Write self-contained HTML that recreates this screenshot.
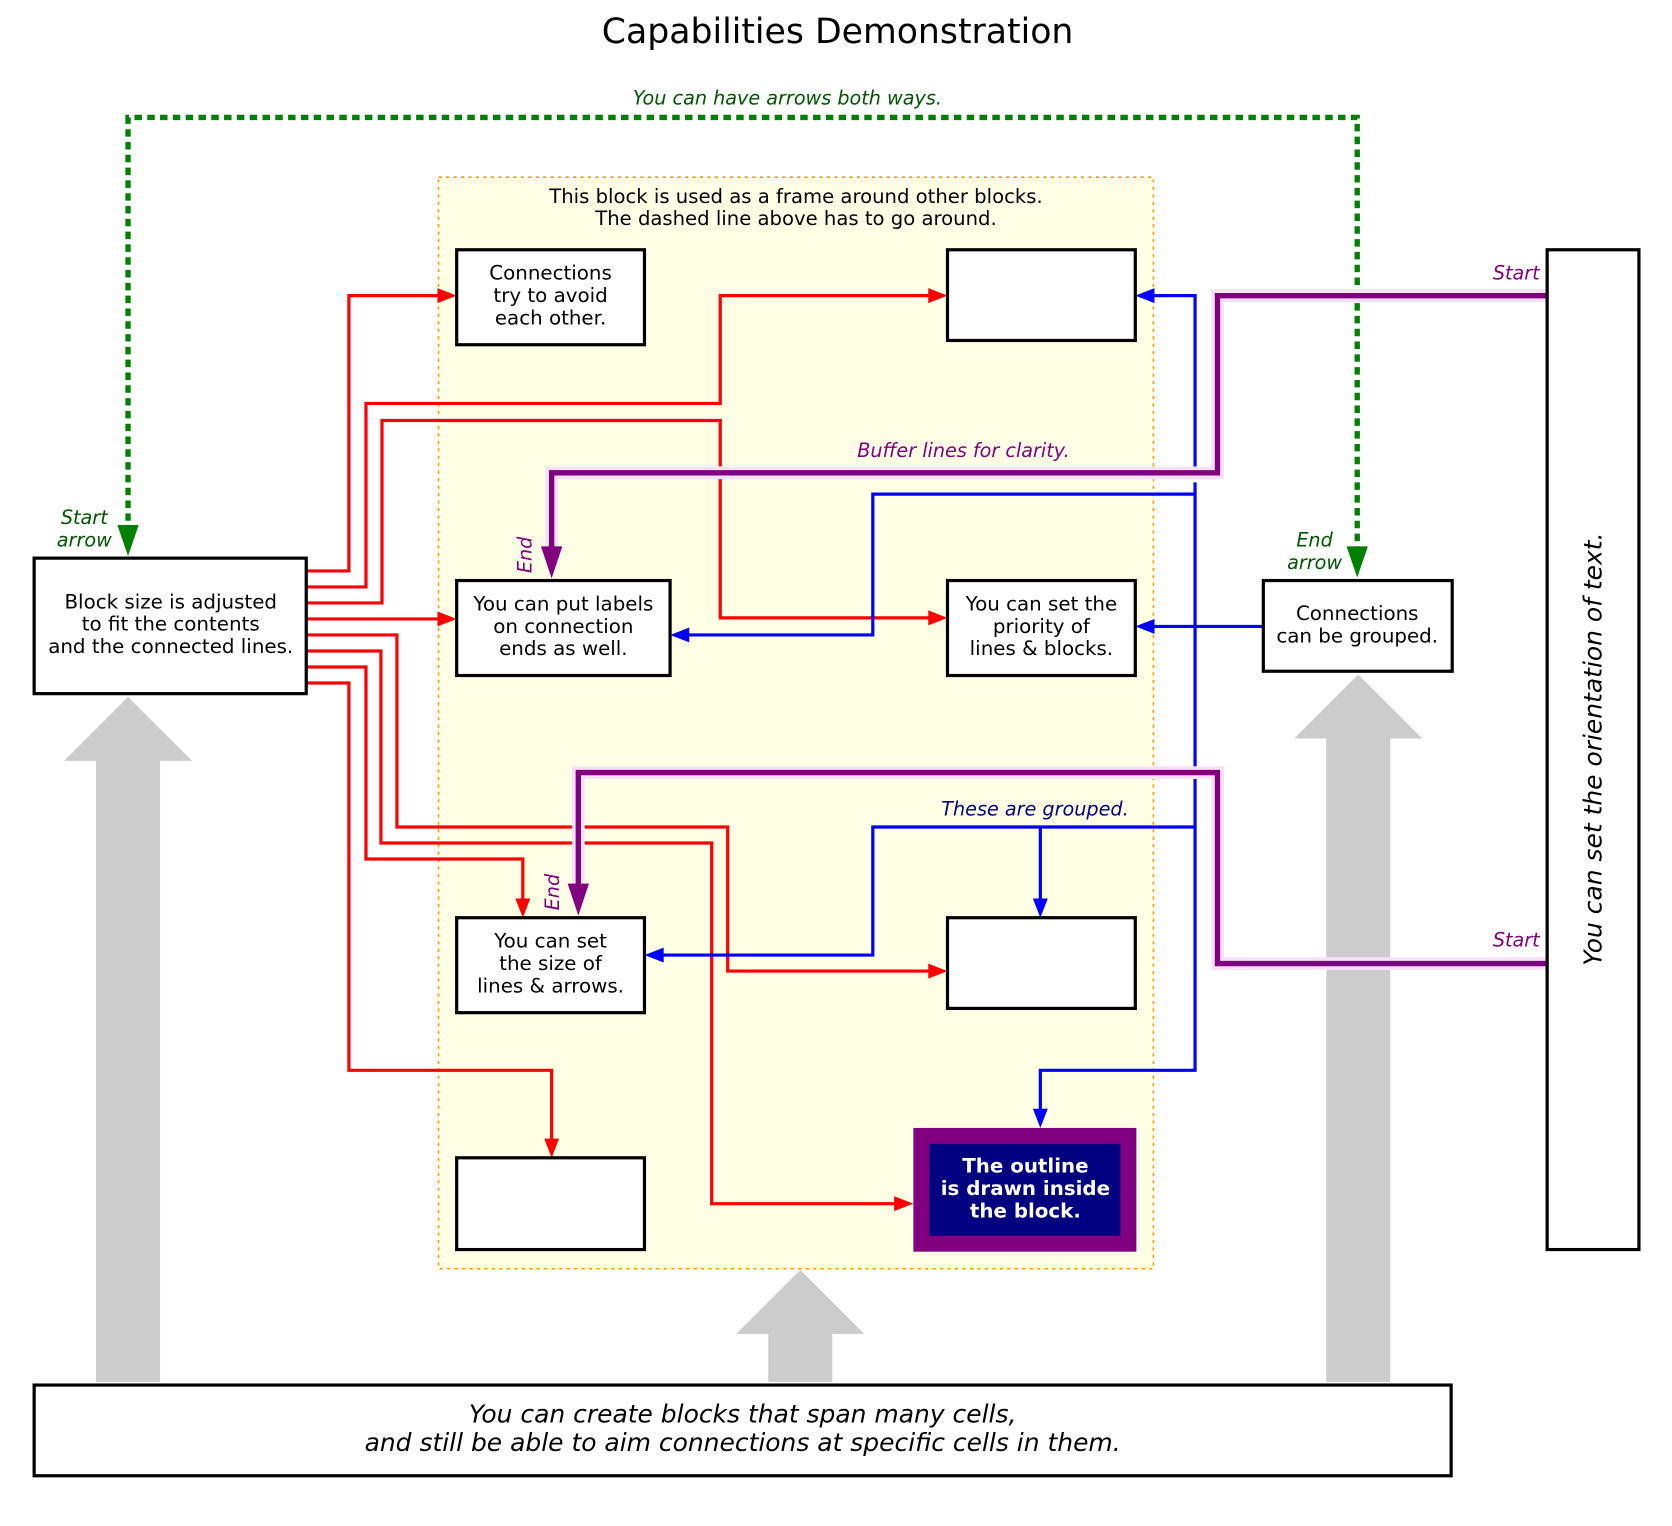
<!DOCTYPE html>
<html><head><meta charset="utf-8"><style>html,body{margin:0;padding:0;background:#fff}svg{display:block}</style></head>
<body>
<svg width="1672" height="1526" viewBox="0 0 1567 1430" xmlns="http://www.w3.org/2000/svg" font-family="'DejaVu Sans', 'Liberation Sans', sans-serif">
<rect width="1567" height="1430" fill="#fff"/>
<text x="785" y="40" font-size="32.5" text-anchor="middle">Capabilities Demonstration</text>

<!-- frame -->
<rect x="411" y="166" width="670" height="1023" fill="#ffffe6" stroke="#ff9900" stroke-width="1.5" stroke-dasharray="3,4"/>
<text x="746" y="190" font-size="18.4" text-anchor="middle">This block is used as a frame around other blocks.</text>
<text x="746" y="211" font-size="18.4" text-anchor="middle">The dashed line above has to go around.</text>

<!-- gray block arrows -->
<g fill="#cccccc">
<polygon points="90,1295 90,713 60,713 120,653 180,713 150,713 150,1295"/>
<polygon points="720,1295 720,1250 690,1250 750,1190 810,1250 780,1250 780,1295"/>
<polygon points="1243,1295 1243,692 1213,692 1273,632 1333,692 1303,692 1303,1295"/>
</g>

<!-- green dotted -->
<polyline points="120,500 120,110 1272,110 1272,515" fill="none" stroke="green" stroke-width="5" stroke-dasharray="7,5"/>
<polygon points="110,492 130,492 120,521" fill="green"/>
<polygon points="1262,512 1282,512 1272,541" fill="green"/>
<text x="738" y="98" font-size="18" font-style="italic" fill="#005500" text-anchor="middle">You can have arrows both ways.</text>
<text x="79" y="491" font-size="18" font-style="italic" fill="#005500" text-anchor="middle">Start</text>
<text x="79" y="512" font-size="18" font-style="italic" fill="#005500" text-anchor="middle">arrow</text>
<text x="1232" y="512" font-size="18" font-style="italic" fill="#005500" text-anchor="middle">End</text>
<text x="1232" y="533" font-size="18" font-style="italic" fill="#005500" text-anchor="middle">arrow</text>

<!-- red lines -->
<g fill="none" stroke="red" stroke-width="3">
<polyline points="287,535 327,535 327,277 418,277"/>
<polyline points="287,550 343,550 343,378 675,378 675,277 878,277"/>
<polyline points="287,565 358,565 358,394 675,394 675,579 878,579"/>
<polyline points="287,580 418,580"/>
<polyline points="287,595 372,595 372,775 682,775 682,910 878,910"/>
<polyline points="287,610 357,610 357,790 667,790 667,1128 846,1128"/>
<polyline points="287,625 343,625 343,805 490,805 490,850"/>
<polyline points="287,640 327,640 327,1003 517,1003 517,1075"/>
</g>
<g fill="red">
<polygon points="428,277 410,270 410,284"/>
<polygon points="888,277 870,270 870,284"/>
<polygon points="888,579 870,572 870,586"/>
<polygon points="428,580 410,573 410,587"/>
<polygon points="888,910 870,903 870,917"/>
<polygon points="856,1128 838,1121 838,1135"/>
<polygon points="490,860 483,842 497,842"/>
<polygon points="517,1085 510,1067 524,1067"/>
</g>

<!-- blue lines -->
<g fill="none" stroke="blue" stroke-width="3">
<polyline points="1184,587 1074,587"/>
<polyline points="1074,277 1120,277 1120,440"/>
<polyline points="1120,452 1120,720"/>
<polyline points="1120,730 1120,1003 975,1003 975,1047"/>
<polyline points="1120,463 818,463 818,595 638,595"/>
<polyline points="1120,775 818,775 818,895 614,895"/>
<polyline points="975,775 975,850"/>
</g>
<g fill="blue">
<polygon points="1064,587 1082,580 1082,594"/>
<polygon points="1064,277 1082,270 1082,284"/>
<polygon points="628,595 646,588 646,602"/>
<polygon points="604,895 622,888 622,902"/>
<polygon points="975,860 968,842 982,842"/>
<polygon points="975,1057 968,1039 982,1039"/>
</g>
<text x="970" y="764" font-size="18" font-style="italic" fill="#000080" text-anchor="middle">These are grouped.</text>

<!-- purple lines -->
<g fill="none" stroke-linejoin="miter">
<polyline points="1450,277 1141,277 1141,443 517,443 517,515" stroke="#f8e0f8" stroke-width="12"/>
<polyline points="1450,903 1141,903 1141,724 542,724 542,830" stroke="#f8e0f8" stroke-width="12"/>
<polyline points="1450,277 1141,277 1141,443 517,443 517,515" stroke="purple" stroke-width="5"/>
<polyline points="1450,903 1141,903 1141,724 542,724 542,830" stroke="purple" stroke-width="5"/>
</g>
<polygon points="507,512 527,512 517,542" fill="purple"/>
<polygon points="532,828 552,828 542,858" fill="purple"/>
<text x="1443" y="262" font-size="18" font-style="italic" fill="purple" text-anchor="end">Start</text>
<text x="1443" y="887" font-size="18" font-style="italic" fill="purple" text-anchor="end">Start</text>
<text x="903" y="428" font-size="18" font-style="italic" fill="purple" text-anchor="middle">Buffer lines for clarity.</text>
<text transform="translate(498,520) rotate(-90)" font-size="18" font-style="italic" fill="purple" text-anchor="middle">End</text>
<text transform="translate(524,836) rotate(-90)" font-size="18" font-style="italic" fill="purple" text-anchor="middle">End</text>

<!-- boxes -->
<g fill="#fff" stroke="#000" stroke-width="3">
<rect x="428" y="234" width="176" height="89"/>
<rect x="888" y="234" width="176" height="85"/>
<rect x="428" y="544" width="200" height="89"/>
<rect x="888" y="544" width="176" height="89"/>
<rect x="1184" y="544" width="177" height="85"/>
<rect x="428" y="860" width="176" height="89"/>
<rect x="888" y="860" width="176" height="85"/>
<rect x="428" y="1085" width="176" height="86"/>
<rect x="32" y="523" width="255" height="127"/>
<rect x="1450" y="234" width="86" height="937"/>
<rect x="32" y="1298" width="1328" height="85"/>
</g>
<rect x="856" y="1057" width="209" height="116" fill="purple"/>
<rect x="871" y="1072" width="179" height="86" fill="#000080"/>

<g font-size="18.6" text-anchor="middle">
<text x="516" y="262">Connections</text><text x="516" y="283">try to avoid</text><text x="516" y="304">each other.</text>
<text x="528" y="572">You can put labels</text><text x="528" y="593">on connection</text><text x="528" y="614">ends as well.</text>
<text x="976" y="572">You can set the</text><text x="976" y="593">priority of</text><text x="976" y="614">lines &amp; blocks.</text>
<text x="1272" y="581">Connections</text><text x="1272" y="602">can be grouped.</text>
<text x="516" y="888">You can set</text><text x="516" y="909">the size of</text><text x="516" y="930">lines &amp; arrows.</text>
<text x="160" y="570">Block size is adjusted</text><text x="160" y="591">to fit the contents</text><text x="160" y="612">and the connected lines.</text>
<g fill="#fff" font-weight="bold"><text x="961" y="1099">The outline</text><text x="961" y="1120">is drawn inside</text><text x="961" y="1141">the block.</text></g>
</g>
<text transform="translate(1501,702) rotate(-90)" font-size="23.4" font-style="italic" text-anchor="middle">You can set the orientation of text.</text>
<text x="696" y="1333" font-size="23.4" font-style="italic" text-anchor="middle">You can create blocks that span many cells,</text>
<text x="696" y="1360" font-size="23.4" font-style="italic" text-anchor="middle">and still be able to aim connections at specific cells in them.</text>
</svg>
</body></html>
